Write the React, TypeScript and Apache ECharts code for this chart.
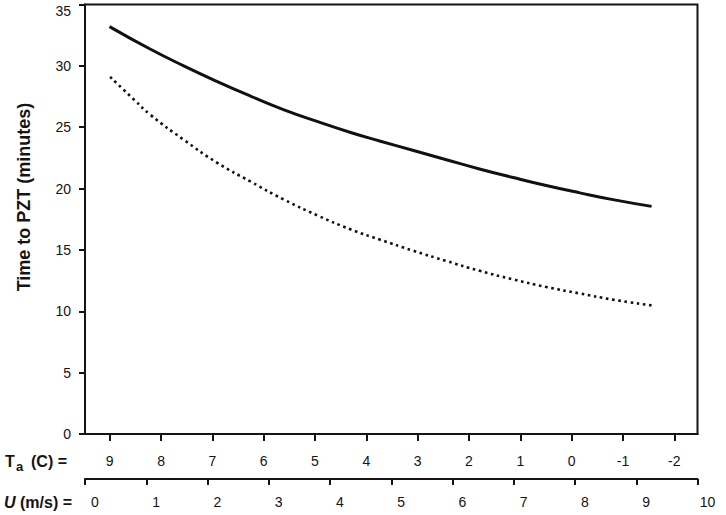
import React, { useEffect, useRef } from 'react';
import * as echarts from 'echarts';

// Wind speed U (m/s) and time to PZT (minutes)
const solidU = [0.4, 1.07, 1.62, 2.16, 2.71, 3.25, 3.8, 4.35, 4.81, 5.35, 5.9, 6.44, 6.99, 7.53, 8.08, 8.62, 9.25];
const solidT = [33.2, 31.35, 29.98, 28.72, 27.52, 26.42, 25.45, 24.55, 23.88, 23.12, 22.35, 21.6, 20.9, 20.25, 19.65, 19.1, 18.55];

const dottedU = [0.41, 0.8, 1.07, 1.62, 2.16, 2.71, 3.25, 3.8, 4.35, 4.81, 5.35, 5.9, 6.44, 6.99, 7.53, 8.08, 8.62, 9.25];
const dottedT = [29.1, 27.25, 26.0, 23.95, 22.1, 20.55, 19.1, 17.8, 16.65, 15.85, 14.95, 14.1, 13.3, 12.6, 11.98, 11.45, 10.95, 10.48];

// Air temperature tick labels (second, reversed axis)
const taTicks = [9, 8, 7, 6, 5, 4, 3, 2, 1, 0, -1, -2];
const taRange = { min: -2.453, max: 9.482 };
const uRange = { min: 0, max: 10, step: 1 };
const yRange = { min: 0, max: 35, step: 5 };

export default function App() {
  const ref = useRef<HTMLDivElement>(null);

  useEffect(() => {
    if (!ref.current) return;
    const chart = echarts.init(ref.current, null, { renderer: 'svg' });
    const font = "'Liberation Sans', Arial, sans-serif";
    const ink = '#141414';
    const line = { color: ink, width: 2 };

    chart.setOption({
      animation: false,
      backgroundColor: '#ffffff',
      grid: {
        left: 85,
        right: 28.5,
        top: 4.5,
        bottom: 81,
        show: true,
        borderColor: ink,
        borderWidth: 2,
        containLabel: false,
        outerBoundsMode: 'none',
      },
      xAxis: [
        {
          type: 'value',
          min: uRange.min,
          max: uRange.max,
          interval: uRange.step,
          position: 'bottom',
          offset: 45,
          axisLine: { show: true, onZero: false, lineStyle: line },
          axisTick: { show: true, inside: false, length: 6, lineStyle: line },
          axisLabel: {
            color: ink,
            fontSize: 14,
            fontFamily: font,
            margin: 16,
            padding: [0, 0, 0, 20],
          },
          splitLine: { show: false },
        },
        {
          type: 'value',
          inverse: true,
          min: taRange.min,
          max: taRange.max,
          position: 'bottom',
          offset: 0,
          axisLine: { show: true, onZero: false, lineStyle: line },
          axisTick: { show: true, inside: false, length: 7, lineStyle: line, customValues: taTicks },
          axisLabel: {
            color: ink,
            fontSize: 14,
            fontFamily: font,
            margin: 20,
            customValues: taTicks,
          },
          splitLine: { show: false },
        },
      ],
      yAxis: {
        type: 'value',
        min: yRange.min,
        max: yRange.max,
        interval: yRange.step,
        axisLine: { show: true, lineStyle: line },
        axisTick: { show: true, inside: false, length: 6, lineStyle: line },
        axisLabel: {
          color: ink,
          fontSize: 14,
          fontFamily: font,
          margin: 14,
          formatter: (v: number) => (v === yRange.max ? `{top|${v}}` : `${v}`),
          rich: {
            top: { fontSize: 14, fontFamily: font, color: ink, padding: [12, 0, 0, 0] },
          },
        },
        splitLine: { show: false },
      },
      graphic: [
        {
          type: 'text',
          x: 24,
          y: 197,
          rotation: Math.PI / 2,
          style: {
            text: 'Time to PZT (minutes)',
            fill: ink,
            font: `bold 18px ${font}`,
            align: 'center',
            verticalAlign: 'middle',
          },
        },
        {
          type: 'text',
          x: 5,
          y: 461,
          style: {
            text: 'T',
            fill: ink,
            font: `bold 16px ${font}`,
            align: 'left',
            verticalAlign: 'middle',
          },
        },
        {
          type: 'text',
          x: 16,
          y: 466,
          style: {
            text: 'a',
            fill: ink,
            font: `bold 13px ${font}`,
            align: 'left',
            verticalAlign: 'middle',
          },
        },
        {
          type: 'text',
          x: 31,
          y: 461,
          style: {
            text: '(C) =',
            fill: ink,
            font: `bold 16px ${font}`,
            align: 'left',
            verticalAlign: 'middle',
          },
        },
        {
          type: 'text',
          x: 4,
          y: 502,
          style: {
            text: '{i|U}{b| (m/s) =}',
            align: 'left',
            verticalAlign: 'middle',
            rich: {
              i: { fill: ink, fontFamily: font, fontSize: 16, fontWeight: 'bold', fontStyle: 'italic' },
              b: { fill: ink, fontFamily: font, fontSize: 16, fontWeight: 'bold' },
            },
          },
        },
      ],
      series: [
        {
          type: 'line',
          xAxisIndex: 0,
          yAxisIndex: 0,
          data: solidU.map((u, i) => [u, solidT[i]]),
          smooth: true,
          showSymbol: false,
          symbol: 'none',
          lineStyle: { color: '#111', width: 3 },
        },
        {
          type: 'line',
          xAxisIndex: 0,
          yAxisIndex: 0,
          data: dottedU.map((u, i) => [u, dottedT[i]]),
          smooth: true,
          showSymbol: false,
          symbol: 'none',
          lineStyle: { color: '#111', width: 2.6, type: [2.6, 3.6], cap: 'butt' },
        },
      ],
    });

    return () => chart.dispose();
  }, []);

  return (
    <div
      ref={ref}
      style={{ position: 'absolute', left: 0, top: 0, width: 726, height: 515 }}
    />
  );
}
